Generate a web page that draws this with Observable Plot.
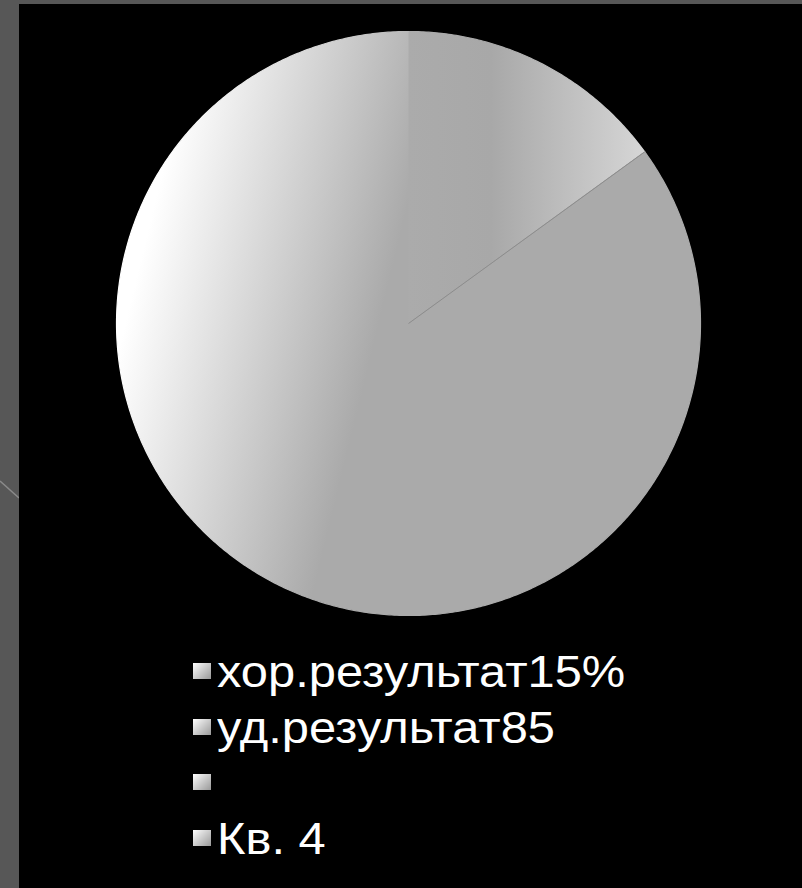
<!DOCTYPE html>
<html><head><meta charset="utf-8">
<script src="https://cdn.jsdelivr.net/npm/d3@7"></script>
<script src="https://cdn.jsdelivr.net/npm/@observablehq/plot@0.6"></script>
<style>
html,body{margin:0;padding:0;width:802px;height:888px;overflow:hidden;background:#575757;font-family:"Liberation Sans",Arial,sans-serif;}
#panel{position:absolute;left:19px;top:4px;width:783px;height:884px;background:#000;}
#deco{position:absolute;left:0;top:0;}
#chart{position:absolute;left:0;top:0;}
#legend{position:absolute;left:193px;top:644px;color:#fff;font-size:45px;line-height:55.5px;}
.row{position:relative;height:55.5px;}
.sw{position:absolute;left:0;top:19px;width:18px;height:16px;background:linear-gradient(135deg,#ffffff,#999999);}
.lb{position:absolute;left:24px;top:0;white-space:nowrap;transform:scaleX(1.085);transform-origin:0 50%;}
</style></head><body>
<div id="panel"></div>
<svg id="deco" width="19" height="888"><line x1="0" y1="481" x2="19" y2="498" stroke="#8a8a8a" stroke-width="1.5"/></svg>
<div id="chart"></div>
<div id="legend"></div>
<script>
// Data
const categories = ["хор.результат15%", "уд.результат85", "", "Кв. 4"];
const values = [15, 85, 0, 0];

// Build slices
const rows = categories.map((c, i) => ({key: i, label: c, value: values[i]}));
const arcs = d3.pie().sort(null).value(d => d.value)(rows);
const points = [];
for (const a of arcs) {
  if (a.endAngle - a.startAngle <= 0) continue;
  const n = Math.max(2, Math.ceil((a.endAngle - a.startAngle) / (Math.PI / 360)));
  points.push({key: a.data.key, x: 0, y: 0});
  for (let k = 0; k <= n; k++) {
    const t = a.startAngle + (a.endAngle - a.startAngle) * k / n;
    points.push({key: a.data.key, x: Math.sin(t), y: Math.cos(t)});
  }
}
const boundaries = arcs.filter(a => a.data.value > 0 && a.endAngle < 2 * Math.PI - 1e-9)
  .map(a => ({x1: 0, y1: 0, x2: Math.sin(a.endAngle), y2: Math.cos(a.endAngle)}));

const sliceFill = ["url(#g0)", "url(#g1)", "#aaaaaa", "#aaaaaa"];
const marks = rows.filter(r => r.value > 0).map(r =>
  Plot.line(points.filter(p => p.key === r.key), {x: "x", y: "y", fill: sliceFill[r.key], stroke: sliceFill[r.key], strokeWidth: 1.2})
);
marks.push(Plot.link(boundaries, {x1: "x1", y1: "y1", x2: "x2", y2: "y2", stroke: "#8c8c8c", strokeWidth: 1}));

const svg = Plot.plot({
  width: 802, height: 640,
  marginLeft: 116, marginRight: 102, marginTop: 31, marginBottom: 25,
  x: {domain: [-1, 1], axis: null},
  y: {domain: [-1, 1], axis: null},
  style: {background: "transparent", overflow: "visible"},
  marks
});
const xs = svg.scale("x"), ys = svg.scale("y");
const px = v => xs.range[0] + (v - xs.domain[0]) / (xs.domain[1] - xs.domain[0]) * (xs.range[1] - xs.range[0]);
const py = v => ys.range[0] + (v - ys.domain[0]) / (ys.domain[1] - ys.domain[0]) * (ys.range[1] - ys.range[0]);
const e1 = arcs[0].endAngle;
const defs = d3.select(svg).insert("defs", ":first-child");
const g0 = defs.append("linearGradient").attr("id", "g0").attr("gradientUnits", "userSpaceOnUse")
  .attr("x1", px(0)).attr("y1", py(0.5)).attr("x2", px(Math.sin(e1))).attr("y2", py(0.5));
[[0, "#ababab"], [0.35, "#a8a8a8"], [1, "#d6d6d6"]].forEach(([o, c]) => g0.append("stop").attr("offset", o).attr("stop-color", c));
const g1 = defs.append("linearGradient").attr("id", "g1").attr("gradientUnits", "userSpaceOnUse")
  .attr("x1", px(-0.97)).attr("y1", py(0)).attr("x2", px(-0.15)).attr("y2", py(-0.2));
[[0, "#ffffff"], [1, "#aaaaaa"]].forEach(([o, c]) => g1.append("stop").attr("offset", o).attr("stop-color", c));
document.getElementById("chart").appendChild(svg);

// Legend
const lg = d3.select("#legend");
categories.forEach(c => {
  const r = lg.append("div").attr("class", "row");
  r.append("div").attr("class", "sw");
  r.append("span").attr("class", "lb").text(c);
});
</script>
</body></html>
